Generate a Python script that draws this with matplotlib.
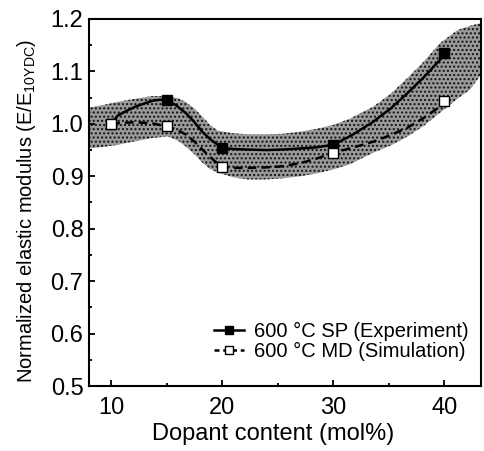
import numpy as np
import matplotlib
matplotlib.use("Agg")
import matplotlib.pyplot as plt
from matplotlib.ticker import MultipleLocator

plt.rcParams['font.family'] = ['Liberation Sans', 'DejaVu Sans']
plt.rcParams['hatch.color'] = '#111111'
plt.rcParams['hatch.linewidth'] = 1.0

# measured points
dopant = [10, 15, 20, 30, 40]
sp_vals = [1.0, 1.045, 0.954, 0.960, 1.136]
md_vals = [1.0, 0.995, 0.917, 0.945, 1.044]

# smooth guide curves
sp_cx = [10, 10.6, 11.5, 12.2, 13.0, 13.7, 14.4, 15, 15.8, 16.7, 17.5, 18.2, 18.9, 19.6, 20,
         21, 22.3, 24, 25.4, 27, 28.4, 30, 31.8, 33.6, 35.2, 36.7, 38.2, 39.6, 40]
sp_cy = [1.0, 1.016, 1.026, 1.033, 1.039, 1.044, 1.046, 1.045, 1.036, 1.021, 1.003, 0.985, 0.971,
         0.960, 0.954, 0.952, 0.951, 0.950, 0.951, 0.953, 0.955, 0.960, 0.980, 1.004, 1.030, 1.059,
         1.090, 1.122, 1.136]
md_cx = [10, 11, 12.2, 13.7, 15, 15.8, 16.7, 17.5, 18.2, 19.1, 20, 21, 22.3, 24, 25.4, 27, 28.4,
         30, 31.8, 33.6, 35.2, 36.7, 38.2, 39.6, 40]
md_cy = [1.0, 1.002, 1.003, 1.001, 0.995, 0.990, 0.980, 0.966, 0.951, 0.933, 0.917, 0.916, 0.916,
         0.917, 0.919, 0.925, 0.933, 0.945, 0.955, 0.966, 0.979, 0.993, 1.012, 1.033, 1.044]

# shaded band
band_x = [8, 9.3, 10.6, 12.2, 13.7, 15.1, 16.0, 16.7, 17.5, 18.2, 18.9, 19.6, 21, 22.3, 24, 25.4,
          27, 28.4, 30, 31.5, 33.6, 35.2, 36.7, 38.2, 39.6, 41.2, 42.3, 43.3]
band_hi = [1.031, 1.036, 1.042, 1.048, 1.053, 1.053, 1.049, 1.042, 1.029, 1.014, 0.998, 0.987,
           0.982, 0.980, 0.980, 0.981, 0.985, 0.990, 0.998, 1.010, 1.033, 1.058, 1.088, 1.120,
           1.154, 1.179, 1.187, 1.192]
band_lo = [0.953, 0.956, 0.960, 0.967, 0.973, 0.976, 0.968, 0.957, 0.942, 0.926, 0.914, 0.907,
           0.898, 0.894, 0.894, 0.896, 0.900, 0.905, 0.913, 0.923, 0.945, 0.959, 0.976, 0.997,
           1.021, 1.048, 1.065, 1.094]

fig = plt.figure(figsize=(4.85, 4.51), dpi=100)
ax = fig.add_axes([0.1835, 0.1441, 0.8083, 0.8138])

ax.fill_between(band_x, band_lo, band_hi, facecolor='#9a9a9a', edgecolor='#111111',
                hatch='....', linewidth=0, zorder=1)

ax.plot(sp_cx, sp_cy, color='black', lw=1.8, zorder=3)
ax.plot(md_cx, md_cy, color='black', lw=1.8, ls=(0, (3.5, 2)), zorder=3)
ax.plot(dopant, sp_vals, ls='none', marker='s', ms=7, mfc='black', mec='black', zorder=4)
ax.plot(dopant, md_vals, ls='none', marker='s', ms=7, mfc='white', mec='black', mew=1.0, zorder=5)

# legend handles
ax.plot([], [], color='black', lw=1.8, marker='s', ms=6, mfc='black', mec='black',
        label='600 °C SP (Experiment)')
ax.plot([], [], color='black', lw=1.8, ls=(0, (2, 1.5)), marker='s', ms=6, mfc='white',
        mec='black', mew=1.0, label='600 °C MD (Simulation)')
ax.legend(loc='lower right', frameon=False, fontsize=14.5, handlelength=1.5,
          handletextpad=0.5, borderaxespad=0.2, labelspacing=0.05,
          bbox_to_anchor=(1.0, 0.035))

ax.set_xlim(8, 43.3)
ax.set_ylim(0.5, 1.2)
ax.xaxis.set_major_locator(MultipleLocator(10))
ax.xaxis.set_minor_locator(MultipleLocator(5))
ax.yaxis.set_major_locator(MultipleLocator(0.1))
ax.yaxis.set_minor_locator(MultipleLocator(0.05))
ax.tick_params(which='both', direction='in', top=False, right=False, labelsize=17, width=1.3)
ax.tick_params(which='major', length=4)
ax.tick_params(axis='x', which='major', pad=8)
ax.tick_params(axis='y', which='major', pad=4)
ax.tick_params(which='minor', length=2.5)
for s in ax.spines.values():
    s.set_linewidth(1.5)

ax.set_xlabel('Dopant content (mol%)', fontsize=17)
ax.set_ylabel('Normalized elastic modulus (E/E$_{\\mathregular{10YDC}}$)', fontsize=14.5)
ax.yaxis.set_label_coords(-0.13, 0.476)
ax.xaxis.set_label_coords(0.47, -0.10)

fig.savefig('out.png', dpi=100)
